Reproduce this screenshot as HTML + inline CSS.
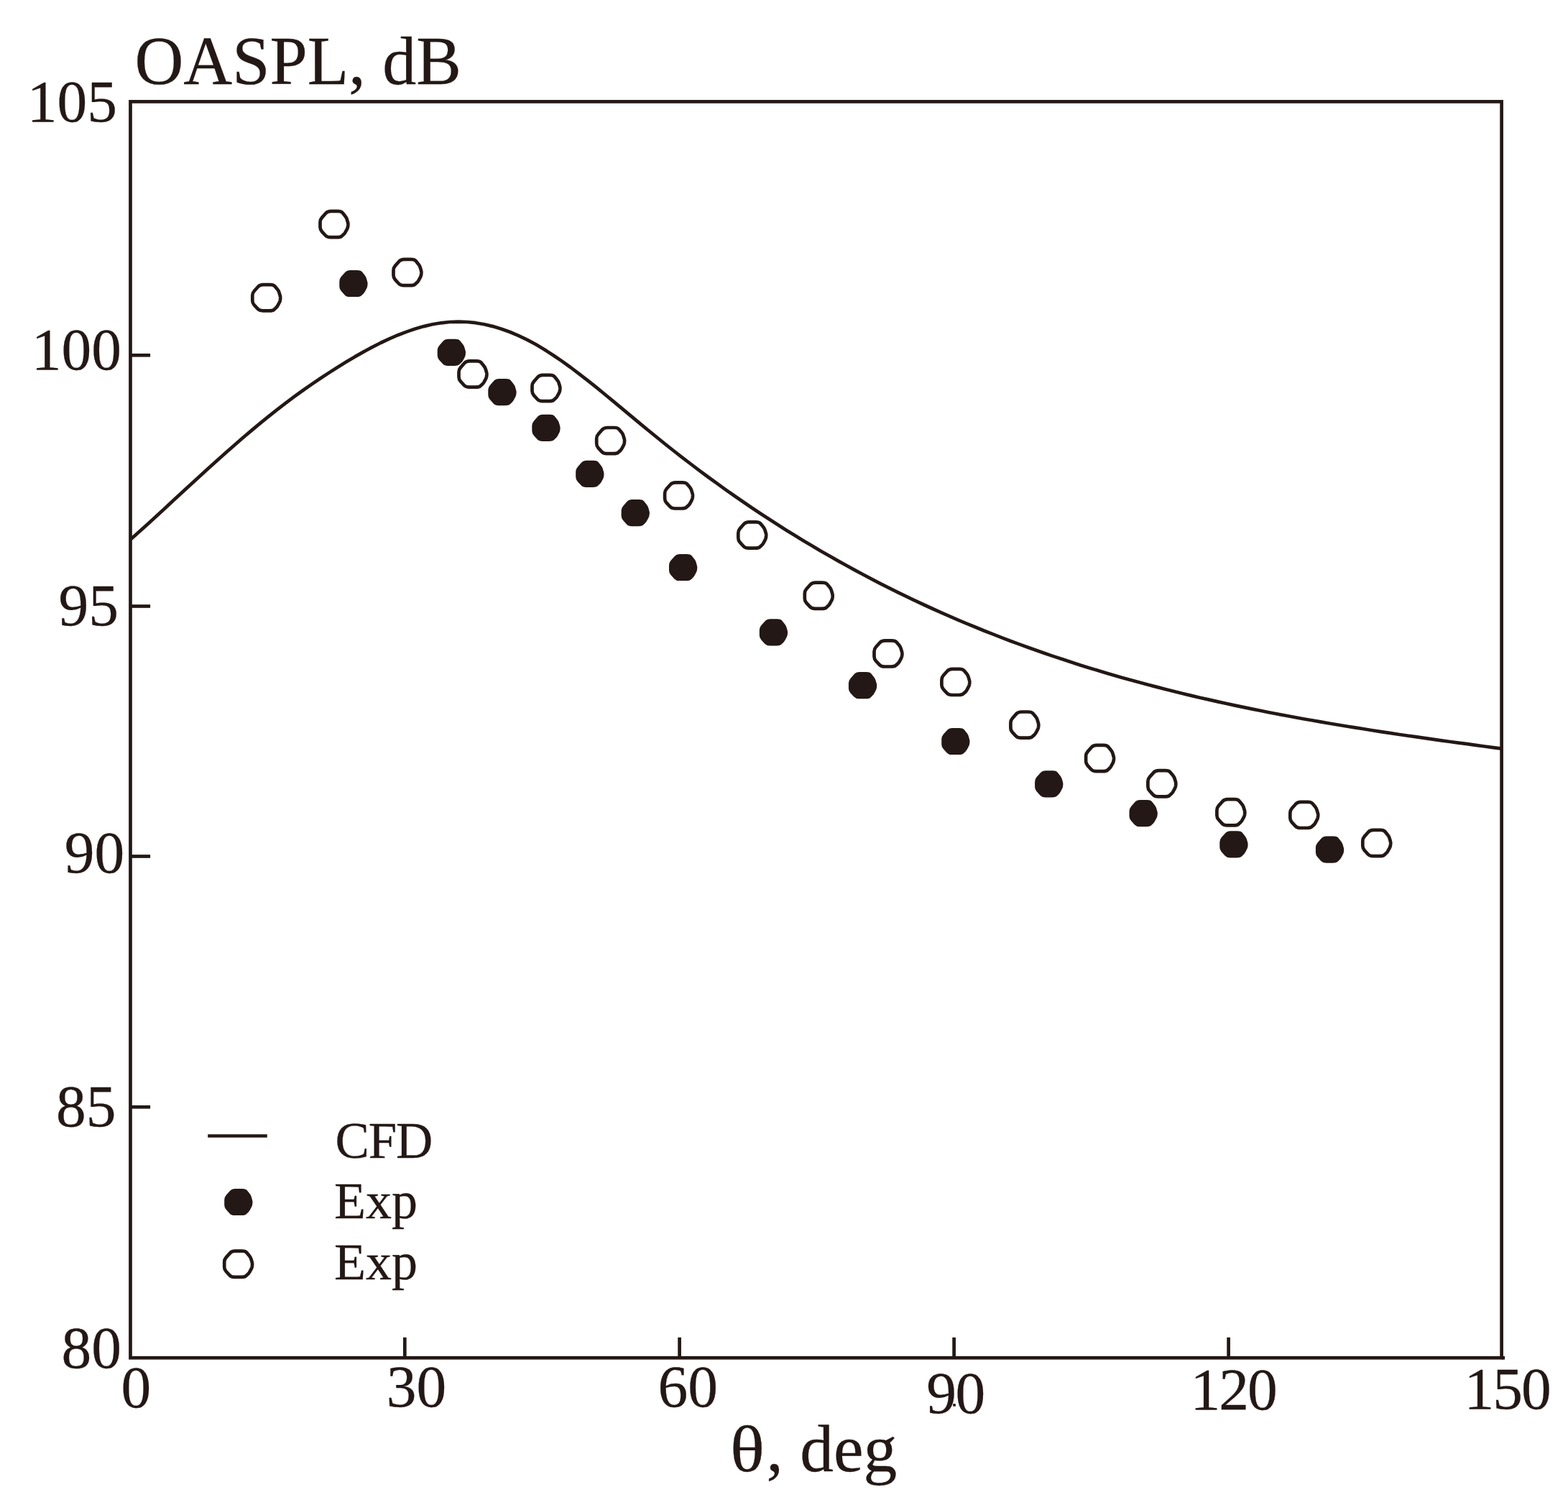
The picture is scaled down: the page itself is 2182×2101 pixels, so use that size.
<!DOCTYPE html>
<html lang="en"><head><meta charset="utf-8"><title>OASPL directivity</title>
<style>
html,body{margin:0;padding:0;background:#fff;}
body{width:2182px;height:2101px;overflow:hidden;}
svg{display:block;}
text{font-family:"Liberation Serif",serif;fill:#231815;stroke:#231815;stroke-width:0.3px;stroke-linejoin:round;}
</style></head><body>
<svg width="2182" height="2101" viewBox="0 0 2182 2101">
<rect width="2182" height="2101" fill="#fff"/>
<g fill="none" stroke="#231815" stroke-width="4.7" stroke-linecap="butt" stroke-linejoin="miter">
<rect x="181.5" y="141.4" width="1908.1" height="1747.9"/>
<line x1="2089.6" y1="1889.3" x2="2094.1" y2="1889.3"/>
<line x1="181.5" y1="494.3" x2="209.1" y2="494.3"/>
<line x1="181.5" y1="843.5" x2="209.1" y2="843.5"/>
<line x1="181.5" y1="1191.5" x2="209.1" y2="1191.5"/>
<line x1="181.5" y1="1540.3" x2="209.1" y2="1540.3"/>
<line x1="563.3" y1="1889.3" x2="563.3" y2="1860.9"/>
<line x1="945.6" y1="1889.3" x2="945.6" y2="1860.9"/>
<line x1="1327.6" y1="1889.3" x2="1327.6" y2="1860.9"/>
<line x1="1709.6" y1="1889.3" x2="1709.6" y2="1860.9"/>
<path d="M181.8,750.6 L193.8,739.8 L205.8,728.9 L217.8,717.9 L229.8,706.9 L241.8,695.8 L253.8,684.7 L265.8,673.7 L277.8,662.7 L289.8,651.8 L301.8,641.0 L313.8,630.3 L325.8,619.7 L337.8,609.3 L349.8,599.1 L361.8,589.1 L373.8,579.4 L385.8,569.9 L397.8,560.7 L409.8,551.7 L421.8,543.0 L433.8,534.6 L445.8,526.5 L457.8,518.6 L469.8,510.9 L481.8,503.6 L493.8,496.4 L505.8,489.6 L517.8,483.1 L529.8,477.0 L541.8,471.4 L553.8,466.2 L565.8,461.6 L577.8,457.5 L589.8,454.1 L601.8,451.3 L613.8,449.3 L625.8,448.0 L637.8,447.6 L649.8,448.0 L661.8,449.2 L673.8,451.2 L685.8,454.1 L697.8,457.7 L709.8,462.0 L721.8,467.1 L733.8,472.9 L745.8,479.3 L757.8,486.5 L769.8,494.2 L781.8,502.4 L793.8,511.0 L805.8,520.1 L817.8,529.4 L829.8,538.9 L841.8,548.7 L853.8,558.6 L865.8,568.6 L877.8,578.6 L889.8,588.6 L901.8,598.5 L913.8,608.3 L925.8,618.0 L937.8,627.5 L949.8,636.8 L961.8,646.0 L973.8,655.1 L985.8,664.0 L997.8,672.7 L1009.8,681.3 L1021.8,689.7 L1033.8,698.0 L1045.8,706.2 L1057.8,714.2 L1069.8,722.0 L1081.8,729.8 L1093.8,737.4 L1105.8,744.8 L1117.8,752.2 L1129.8,759.3 L1141.8,766.4 L1153.8,773.3 L1165.8,780.1 L1177.8,786.8 L1189.8,793.4 L1201.8,799.8 L1213.8,806.1 L1225.8,812.3 L1237.8,818.3 L1249.8,824.3 L1261.8,830.1 L1273.8,835.9 L1285.8,841.5 L1297.8,847.0 L1309.8,852.3 L1321.8,857.6 L1333.8,862.8 L1345.8,867.9 L1357.8,872.8 L1369.8,877.7 L1381.8,882.4 L1393.8,887.1 L1405.8,891.7 L1417.8,896.1 L1429.8,900.5 L1441.8,904.8 L1453.8,909.0 L1465.8,913.1 L1477.8,917.1 L1489.8,921.0 L1501.8,924.9 L1513.8,928.7 L1525.8,932.3 L1537.8,935.9 L1549.8,939.5 L1561.8,942.9 L1573.8,946.3 L1585.8,949.6 L1597.8,952.8 L1609.8,955.9 L1621.8,959.0 L1633.8,962.0 L1645.8,965.0 L1657.8,967.9 L1669.8,970.7 L1681.8,973.4 L1693.8,976.1 L1705.8,978.8 L1717.8,981.4 L1729.8,983.9 L1741.8,986.4 L1753.8,988.8 L1765.8,991.2 L1777.8,993.5 L1789.8,995.8 L1801.8,998.0 L1813.8,1000.2 L1825.8,1002.3 L1837.8,1004.4 L1849.8,1006.5 L1861.8,1008.5 L1873.8,1010.5 L1885.8,1012.4 L1897.8,1014.3 L1909.8,1016.2 L1921.8,1018.1 L1933.8,1019.9 L1945.8,1021.7 L1957.8,1023.5 L1969.8,1025.2 L1981.8,1026.9 L1993.8,1028.6 L2005.8,1030.3 L2017.8,1032.0 L2029.8,1033.6 L2041.8,1035.2 L2053.8,1036.9 L2065.8,1038.5 L2077.8,1040.1 L2089.8,1041.6 L2090.0,1041.7" stroke-linejoin="round"/>
<line x1="289.2" y1="1580.5" x2="371.8" y2="1580.5"/>
</g>
<g fill="#231815">
<path d="M480.1,378.9Q482.7,375.9 487.5,375.9L497.1,375.9Q501.9,375.9 503.7,378.1L507.3,382.6Q509.1,384.8 509.8,387.0L511.1,391.4Q511.7,393.6 511.6,395.1L511.3,398.0Q511.1,399.5 510.1,401.5L508.0,405.5Q507.0,407.5 505.4,408.9L502.4,411.7Q500.9,413.1 496.2,413.1L486.8,413.1Q482.1,413.1 479.7,410.4L474.8,405.0Q472.3,402.3 472.3,398.7L472.3,391.4Q472.3,387.8 474.9,384.8Z"/>
<path d="M616.5,474.8Q619.1,471.8 623.9,471.8L633.5,471.8Q638.2,471.8 640.1,474.0L643.7,478.5Q645.5,480.7 646.2,482.9L647.5,487.3Q648.1,489.5 648.0,491.0L647.7,493.9Q647.5,495.4 646.5,497.4L644.4,501.4Q643.4,503.4 641.8,504.8L638.8,507.6Q637.3,509.0 632.6,509.0L623.2,509.0Q618.5,509.0 616.1,506.3L611.2,500.9Q608.7,498.2 608.7,494.6L608.7,487.3Q608.7,483.7 611.3,480.7Z"/>
<path d="M687.1,530.0Q689.7,527.0 694.5,527.0L704.1,527.0Q708.9,527.0 710.7,529.2L714.3,533.7Q716.1,535.9 716.8,538.1L718.1,542.5Q718.7,544.7 718.6,546.2L718.3,549.1Q718.1,550.6 717.1,552.6L715.0,556.6Q714.0,558.6 712.4,560.0L709.4,562.8Q707.9,564.2 703.2,564.2L693.8,564.2Q689.1,564.2 686.7,561.5L681.8,556.1Q679.3,553.4 679.3,549.8L679.3,542.5Q679.3,538.9 681.9,535.9Z"/>
<path d="M748.1,579.8Q750.7,576.8 755.5,576.8L765.1,576.8Q769.9,576.8 771.7,579.0L775.3,583.5Q777.1,585.7 777.8,587.9L779.1,592.3Q779.7,594.5 779.6,596.0L779.3,598.9Q779.1,600.4 778.1,602.4L776.0,606.4Q775.0,608.4 773.4,609.8L770.4,612.6Q768.9,614.0 764.2,614.0L754.8,614.0Q750.1,614.0 747.7,611.3L742.8,605.9Q740.3,603.2 740.3,599.6L740.3,592.3Q740.3,588.7 742.9,585.7Z"/>
<path d="M809.0,643.8Q811.6,640.8 816.4,640.8L826.0,640.8Q830.8,640.8 832.6,643.0L836.2,647.5Q838.0,649.7 838.7,651.9L840.0,656.3Q840.6,658.5 840.5,660.0L840.2,662.9Q840.0,664.4 839.0,666.4L836.9,670.4Q835.9,672.4 834.3,673.8L831.3,676.6Q829.8,678.0 825.1,678.0L815.7,678.0Q811.0,678.0 808.6,675.3L803.7,669.9Q801.2,667.2 801.2,663.6L801.2,656.3Q801.2,652.7 803.8,649.7Z"/>
<path d="M872.4,698.0Q875.0,695.0 879.8,695.0L889.4,695.0Q894.1,695.0 896.0,697.2L899.6,701.7Q901.4,703.9 902.1,706.1L903.4,710.5Q904.0,712.7 903.9,714.2L903.6,717.1Q903.4,718.6 902.4,720.6L900.3,724.6Q899.3,726.6 897.7,728.0L894.7,730.8Q893.2,732.2 888.5,732.2L879.1,732.2Q874.4,732.2 872.0,729.5L867.1,724.1Q864.6,721.4 864.6,717.8L864.6,710.5Q864.6,706.9 867.2,703.9Z"/>
<path d="M938.8,773.9Q941.4,770.9 946.2,770.9L955.8,770.9Q960.6,770.9 962.4,773.1L966.0,777.6Q967.8,779.8 968.5,782.0L969.8,786.4Q970.4,788.6 970.3,790.1L970.0,793.0Q969.8,794.5 968.8,796.5L966.7,800.5Q965.7,802.5 964.1,803.9L961.1,806.7Q959.6,808.1 954.9,808.1L945.5,808.1Q940.9,808.1 938.4,805.4L933.5,800.0Q931.0,797.3 931.0,793.7L931.0,786.4Q931.0,782.8 933.6,779.8Z"/>
<path d="M1064.6,864.2Q1067.2,861.2 1072.0,861.2L1081.6,861.2Q1086.3,861.2 1088.2,863.4L1091.8,867.9Q1093.6,870.1 1094.3,872.3L1095.6,876.7Q1096.2,878.9 1096.1,880.4L1095.8,883.3Q1095.6,884.8 1094.6,886.8L1092.5,890.8Q1091.5,892.8 1089.9,894.2L1086.9,897.0Q1085.4,898.4 1080.7,898.4L1071.3,898.4Q1066.7,898.4 1064.2,895.7L1059.3,890.3Q1056.8,887.6 1056.8,884.0L1056.8,876.7Q1056.8,873.1 1059.4,870.1Z"/>
<path d="M1188.7,938.1Q1191.3,935.1 1196.1,935.1L1205.7,935.1Q1210.4,935.1 1212.3,937.3L1215.9,941.8Q1217.7,944.0 1218.4,946.2L1219.7,950.6Q1220.3,952.8 1220.2,954.3L1219.9,957.2Q1219.7,958.7 1218.7,960.7L1216.6,964.7Q1215.6,966.7 1214.0,968.1L1211.0,970.9Q1209.5,972.3 1204.8,972.3L1195.4,972.3Q1190.8,972.3 1188.3,969.6L1183.4,964.2Q1180.9,961.5 1180.9,957.9L1180.9,950.6Q1180.9,947.0 1183.5,944.0Z"/>
<path d="M1318.0,1015.9Q1320.6,1012.9 1325.4,1012.9L1335.0,1012.9Q1339.8,1012.9 1341.6,1015.1L1345.2,1019.6Q1347.0,1021.8 1347.7,1024.0L1349.0,1028.4Q1349.6,1030.6 1349.5,1032.1L1349.2,1035.0Q1349.0,1036.5 1348.0,1038.5L1345.9,1042.5Q1344.9,1044.5 1343.3,1045.9L1340.3,1048.7Q1338.8,1050.1 1334.1,1050.1L1324.7,1050.1Q1320.1,1050.1 1317.6,1047.4L1312.7,1042.0Q1310.2,1039.3 1310.2,1035.7L1310.2,1028.4Q1310.2,1024.8 1312.8,1021.8Z"/>
<path d="M1447.9,1075.2Q1450.5,1072.2 1455.3,1072.2L1464.9,1072.2Q1469.6,1072.2 1471.5,1074.4L1475.1,1078.9Q1476.9,1081.1 1477.6,1083.3L1478.9,1087.7Q1479.5,1089.9 1479.4,1091.4L1479.1,1094.3Q1478.9,1095.8 1477.9,1097.8L1475.8,1101.8Q1474.8,1103.8 1473.2,1105.2L1470.2,1108.0Q1468.7,1109.4 1464.0,1109.4L1454.6,1109.4Q1450.0,1109.4 1447.5,1106.7L1442.6,1101.3Q1440.1,1098.6 1440.1,1095.0L1440.1,1087.7Q1440.1,1084.1 1442.7,1081.1Z"/>
<path d="M1579.3,1116.0Q1581.9,1113.0 1586.7,1113.0L1596.3,1113.0Q1601.0,1113.0 1602.9,1115.2L1606.5,1119.7Q1608.3,1121.9 1609.0,1124.1L1610.3,1128.5Q1610.9,1130.7 1610.8,1132.2L1610.5,1135.1Q1610.3,1136.6 1609.3,1138.6L1607.2,1142.6Q1606.2,1144.6 1604.6,1146.0L1601.6,1148.8Q1600.1,1150.2 1595.4,1150.2L1586.0,1150.2Q1581.4,1150.2 1578.9,1147.5L1574.0,1142.1Q1571.5,1139.4 1571.5,1135.8L1571.5,1128.5Q1571.5,1124.9 1574.1,1121.9Z"/>
<path d="M1705.1,1159.2Q1707.7,1156.2 1712.5,1156.2L1722.1,1156.2Q1726.8,1156.2 1728.7,1158.4L1732.3,1162.9Q1734.1,1165.1 1734.8,1167.3L1736.1,1171.7Q1736.7,1173.9 1736.6,1175.4L1736.3,1178.3Q1736.1,1179.8 1735.1,1181.8L1733.0,1185.8Q1732.0,1187.8 1730.4,1189.2L1727.4,1192.0Q1725.9,1193.4 1721.2,1193.4L1711.8,1193.4Q1707.2,1193.4 1704.7,1190.7L1699.8,1185.3Q1697.3,1182.6 1697.3,1179.0L1697.3,1171.7Q1697.3,1168.1 1699.9,1165.1Z"/>
<path d="M1838.7,1166.5Q1841.3,1163.5 1846.1,1163.5L1855.7,1163.5Q1860.4,1163.5 1862.3,1165.7L1865.9,1170.2Q1867.7,1172.4 1868.4,1174.6L1869.7,1179.0Q1870.3,1181.2 1870.2,1182.7L1869.9,1185.6Q1869.7,1187.1 1868.7,1189.1L1866.6,1193.1Q1865.6,1195.1 1864.0,1196.5L1861.0,1199.3Q1859.5,1200.7 1854.8,1200.7L1845.4,1200.7Q1840.8,1200.7 1838.3,1198.0L1833.4,1192.6Q1830.9,1189.9 1830.9,1186.3L1830.9,1179.0Q1830.9,1175.4 1833.5,1172.4Z"/>
<path d="M320.0,1656.9Q322.6,1653.9 327.4,1653.9L337.0,1653.9Q341.8,1653.9 343.6,1656.1L347.2,1660.6Q349.0,1662.8 349.7,1665.0L351.0,1669.4Q351.6,1671.6 351.5,1673.1L351.2,1676.0Q351.0,1677.5 350.0,1679.5L347.9,1683.5Q346.9,1685.5 345.3,1686.9L342.3,1689.7Q340.8,1691.1 336.1,1691.1L326.7,1691.1Q322.0,1691.1 319.6,1688.4L314.7,1683.0Q312.2,1680.3 312.2,1676.7L312.2,1669.4Q312.2,1665.8 314.8,1662.8Z"/>
</g>
<g fill="#fff" stroke="#231815" stroke-width="4.7" stroke-linejoin="round">
<path d="M359.1,399.0Q361.6,396.1 366.4,396.1L375.8,396.1Q380.6,396.1 382.4,398.3L386.0,402.6Q387.8,404.8 388.4,406.9L389.7,411.2Q390.3,413.3 390.2,414.7L389.9,417.6Q389.7,419.1 388.7,421.0L386.6,424.9Q385.6,426.9 384.1,428.2L381.1,430.9Q379.6,432.3 374.9,432.3L365.7,432.3Q361.1,432.3 358.6,429.7L353.7,424.4Q351.3,421.8 351.3,418.3L351.3,411.2Q351.3,407.7 353.9,404.8Z"/>
<path d="M453.3,296.8Q455.8,293.9 460.6,293.9L470.0,293.9Q474.8,293.9 476.6,296.1L480.2,300.4Q482.0,302.6 482.6,304.7L483.9,309.0Q484.5,311.1 484.4,312.5L484.1,315.4Q483.9,316.9 482.9,318.8L480.8,322.7Q479.8,324.7 478.3,326.0L475.3,328.7Q473.8,330.1 469.1,330.1L459.9,330.1Q455.2,330.1 452.8,327.5L447.9,322.2Q445.5,319.6 445.5,316.1L445.5,309.0Q445.5,305.5 448.1,302.6Z"/>
<path d="M555.3,363.8Q557.8,360.9 562.6,360.9L572.0,360.9Q576.8,360.9 578.6,363.1L582.2,367.4Q584.0,369.6 584.6,371.7L585.9,376.0Q586.5,378.1 586.4,379.5L586.1,382.4Q585.9,383.9 584.9,385.8L582.8,389.7Q581.8,391.7 580.3,393.0L577.3,395.7Q575.8,397.1 571.1,397.1L561.9,397.1Q557.2,397.1 554.8,394.5L549.9,389.2Q547.5,386.6 547.5,383.1L547.5,376.0Q547.5,372.5 550.1,369.6Z"/>
<path d="M646.3,505.3Q648.8,502.4 653.6,502.4L663.0,502.4Q667.8,502.4 669.6,504.6L673.2,508.9Q675.0,511.1 675.6,513.2L676.9,517.5Q677.5,519.6 677.4,521.0L677.1,523.9Q676.9,525.4 675.9,527.3L673.8,531.2Q672.8,533.2 671.3,534.5L668.3,537.2Q666.8,538.6 662.1,538.6L652.9,538.6Q648.2,538.6 645.8,536.0L640.9,530.7Q638.5,528.1 638.5,524.6L638.5,517.5Q638.5,514.0 641.1,511.1Z"/>
<path d="M748.3,524.8Q750.8,521.9 755.6,521.9L765.0,521.9Q769.8,521.9 771.6,524.1L775.2,528.4Q777.0,530.6 777.6,532.7L778.9,537.0Q779.5,539.1 779.4,540.5L779.1,543.4Q778.9,544.9 777.9,546.8L775.8,550.7Q774.8,552.7 773.3,554.0L770.3,556.7Q768.8,558.1 764.1,558.1L754.9,558.1Q750.2,558.1 747.8,555.5L742.9,550.2Q740.5,547.6 740.5,544.1L740.5,537.0Q740.5,533.5 743.1,530.6Z"/>
<path d="M838.0,597.9Q840.5,595.0 845.3,595.0L854.7,595.0Q859.5,595.0 861.3,597.2L864.9,601.5Q866.7,603.7 867.3,605.8L868.6,610.1Q869.2,612.2 869.1,613.6L868.8,616.5Q868.6,618.0 867.6,619.9L865.5,623.8Q864.5,625.8 863.0,627.1L860.0,629.8Q858.5,631.2 853.8,631.2L844.6,631.2Q840.0,631.2 837.5,628.6L832.6,623.3Q830.2,620.7 830.2,617.2L830.2,610.1Q830.2,606.6 832.8,603.7Z"/>
<path d="M932.9,674.2Q935.4,671.3 940.2,671.3L949.6,671.3Q954.4,671.3 956.2,673.5L959.8,677.8Q961.6,680.0 962.2,682.1L963.5,686.4Q964.1,688.5 964.0,689.9L963.7,692.8Q963.5,694.3 962.5,696.2L960.4,700.1Q959.4,702.1 957.9,703.4L954.9,706.1Q953.4,707.5 948.7,707.5L939.5,707.5Q934.9,707.5 932.4,704.9L927.5,699.6Q925.1,697.0 925.1,693.5L925.1,686.4Q925.1,682.9 927.7,680.0Z"/>
<path d="M1035.1,729.3Q1037.6,726.4 1042.4,726.4L1051.8,726.4Q1056.5,726.4 1058.4,728.6L1062.0,732.9Q1063.8,735.1 1064.4,737.2L1065.7,741.5Q1066.3,743.6 1066.2,745.0L1065.9,747.9Q1065.7,749.4 1064.7,751.3L1062.6,755.2Q1061.6,757.2 1060.1,758.5L1057.1,761.2Q1055.6,762.6 1050.9,762.6L1041.7,762.6Q1037.0,762.6 1034.6,760.0L1029.7,754.7Q1027.3,752.1 1027.3,748.6L1027.3,741.5Q1027.3,738.0 1029.9,735.1Z"/>
<path d="M1127.6,813.5Q1130.1,810.6 1134.9,810.6L1144.3,810.6Q1149.0,810.6 1150.9,812.8L1154.5,817.1Q1156.3,819.3 1156.9,821.4L1158.2,825.7Q1158.8,827.8 1158.7,829.2L1158.4,832.1Q1158.2,833.6 1157.2,835.5L1155.1,839.4Q1154.1,841.4 1152.6,842.7L1149.6,845.4Q1148.1,846.8 1143.4,846.8L1134.2,846.8Q1129.5,846.8 1127.1,844.2L1122.2,838.9Q1119.8,836.3 1119.8,832.8L1119.8,825.7Q1119.8,822.2 1122.4,819.3Z"/>
<path d="M1224.3,894.2Q1226.8,891.3 1231.6,891.3L1241.0,891.3Q1245.8,891.3 1247.6,893.5L1251.2,897.8Q1253.0,900.0 1253.6,902.1L1254.9,906.4Q1255.5,908.5 1255.4,909.9L1255.1,912.8Q1254.9,914.3 1253.9,916.2L1251.8,920.1Q1250.8,922.1 1249.3,923.4L1246.3,926.1Q1244.8,927.5 1240.1,927.5L1230.9,927.5Q1226.2,927.5 1223.8,924.9L1218.9,919.6Q1216.5,917.0 1216.5,913.5L1216.5,906.4Q1216.5,902.9 1219.1,900.0Z"/>
<path d="M1318.2,933.7Q1320.7,930.8 1325.5,930.8L1334.9,930.8Q1339.7,930.8 1341.5,933.0L1345.1,937.3Q1346.9,939.5 1347.5,941.6L1348.8,945.9Q1349.4,948.0 1349.3,949.4L1349.0,952.3Q1348.8,953.8 1347.8,955.7L1345.7,959.6Q1344.7,961.6 1343.2,962.9L1340.2,965.6Q1338.7,967.0 1334.0,967.0L1324.8,967.0Q1320.2,967.0 1317.7,964.4L1312.8,959.1Q1310.4,956.5 1310.4,953.0L1310.4,945.9Q1310.4,942.4 1313.0,939.5Z"/>
<path d="M1414.2,993.4Q1416.7,990.5 1421.5,990.5L1430.9,990.5Q1435.7,990.5 1437.5,992.7L1441.1,997.0Q1442.9,999.2 1443.5,1001.3L1444.8,1005.6Q1445.4,1007.7 1445.3,1009.1L1445.0,1012.0Q1444.8,1013.5 1443.8,1015.4L1441.7,1019.3Q1440.7,1021.3 1439.2,1022.6L1436.2,1025.3Q1434.7,1026.7 1430.0,1026.7L1420.8,1026.7Q1416.2,1026.7 1413.7,1024.1L1408.8,1018.8Q1406.4,1016.2 1406.4,1012.7L1406.4,1005.6Q1406.4,1002.1 1409.0,999.2Z"/>
<path d="M1518.9,1039.8Q1521.4,1036.9 1526.2,1036.9L1535.6,1036.9Q1540.3,1036.9 1542.2,1039.1L1545.8,1043.4Q1547.6,1045.6 1548.2,1047.7L1549.5,1052.0Q1550.1,1054.1 1550.0,1055.5L1549.7,1058.4Q1549.5,1059.9 1548.5,1061.8L1546.4,1065.7Q1545.4,1067.7 1543.9,1069.0L1540.9,1071.7Q1539.4,1073.1 1534.7,1073.1L1525.5,1073.1Q1520.8,1073.1 1518.4,1070.5L1513.5,1065.2Q1511.1,1062.6 1511.1,1059.1L1511.1,1052.0Q1511.1,1048.5 1513.7,1045.6Z"/>
<path d="M1605.2,1075.1Q1607.7,1072.2 1612.5,1072.2L1621.9,1072.2Q1626.7,1072.2 1628.5,1074.4L1632.1,1078.7Q1633.9,1080.9 1634.5,1083.0L1635.8,1087.3Q1636.4,1089.4 1636.3,1090.8L1636.0,1093.7Q1635.8,1095.2 1634.8,1097.1L1632.7,1101.0Q1631.7,1103.0 1630.2,1104.3L1627.2,1107.0Q1625.7,1108.4 1621.0,1108.4L1611.8,1108.4Q1607.2,1108.4 1604.7,1105.8L1599.8,1100.5Q1597.4,1097.9 1597.4,1094.4L1597.4,1087.3Q1597.4,1083.8 1600.0,1080.9Z"/>
<path d="M1701.2,1115.1Q1703.7,1112.2 1708.5,1112.2L1717.9,1112.2Q1722.7,1112.2 1724.5,1114.4L1728.1,1118.7Q1729.9,1120.9 1730.5,1123.0L1731.8,1127.3Q1732.4,1129.4 1732.3,1130.8L1732.0,1133.7Q1731.8,1135.2 1730.8,1137.1L1728.7,1141.0Q1727.7,1143.0 1726.2,1144.3L1723.2,1147.0Q1721.7,1148.4 1717.0,1148.4L1707.8,1148.4Q1703.2,1148.4 1700.7,1145.8L1695.8,1140.5Q1693.4,1137.9 1693.4,1134.4L1693.4,1127.3Q1693.4,1123.8 1696.0,1120.9Z"/>
<path d="M1803.1,1118.7Q1805.6,1115.8 1810.4,1115.8L1819.8,1115.8Q1824.5,1115.8 1826.4,1118.0L1830.0,1122.3Q1831.8,1124.5 1832.4,1126.6L1833.7,1130.9Q1834.3,1133.0 1834.2,1134.4L1833.9,1137.3Q1833.7,1138.8 1832.7,1140.7L1830.6,1144.6Q1829.6,1146.6 1828.1,1147.9L1825.1,1150.6Q1823.6,1152.0 1818.9,1152.0L1809.7,1152.0Q1805.0,1152.0 1802.6,1149.4L1797.7,1144.1Q1795.3,1141.5 1795.3,1138.0L1795.3,1130.9Q1795.3,1127.4 1797.9,1124.5Z"/>
<path d="M1904.1,1157.8Q1906.6,1154.9 1911.4,1154.9L1920.8,1154.9Q1925.5,1154.9 1927.4,1157.1L1931.0,1161.4Q1932.8,1163.6 1933.4,1165.7L1934.7,1170.0Q1935.3,1172.1 1935.2,1173.5L1934.9,1176.4Q1934.7,1177.9 1933.7,1179.8L1931.6,1183.7Q1930.6,1185.7 1929.1,1187.0L1926.1,1189.7Q1924.6,1191.1 1919.9,1191.1L1910.7,1191.1Q1906.0,1191.1 1903.6,1188.5L1898.7,1183.2Q1896.3,1180.6 1896.3,1177.1L1896.3,1170.0Q1896.3,1166.5 1898.9,1163.6Z"/>
<path d="M320.0,1743.6Q322.5,1740.7 327.3,1740.7L336.7,1740.7Q341.4,1740.7 343.3,1742.9L346.9,1747.2Q348.7,1749.4 349.3,1751.5L350.6,1755.8Q351.2,1757.9 351.1,1759.3L350.8,1762.2Q350.6,1763.7 349.6,1765.6L347.5,1769.5Q346.5,1771.5 345.0,1772.8L342.0,1775.5Q340.5,1776.9 335.8,1776.9L326.6,1776.9Q321.9,1776.9 319.5,1774.3L314.6,1769.0Q312.2,1766.4 312.2,1762.9L312.2,1755.8Q312.2,1752.3 314.8,1749.4Z"/>
</g>
<rect x="1326.2" y="1953.2" width="3.6" height="3.6" fill="#231815"/>
<text x="187.5" y="117.4" font-size="94" text-anchor="start" transform="translate(0 117.4) scale(1 1.018) translate(0 -117.4)">OASPL, dB</text>
<text x="163" y="169.2" font-size="83.5" text-anchor="end" >105</text>
<text x="169" y="514.3" font-size="83.5" text-anchor="end" >100</text>
<text x="165" y="869.7" font-size="83.5" text-anchor="end" >95</text>
<text x="173.2" y="1214.1" font-size="83.5" text-anchor="end" >90</text>
<text x="161.4" y="1566.6" font-size="83.5" text-anchor="end" >85</text>
<text x="169" y="1903.0" font-size="83.5" text-anchor="end" >80</text>
<text x="189.4" y="1957.8" font-size="83.5" text-anchor="middle" >0</text>
<text x="579.5" y="1956.9" font-size="83.5" text-anchor="middle" >30</text>
<text x="957.2" y="1956.9" font-size="83.5" text-anchor="middle" >60</text>
<text x="1329.5" y="1965.6" font-size="83.5" text-anchor="middle" letter-spacing="-1.5">90</text>
<text x="1716.2" y="1960.6" font-size="83.5" text-anchor="middle" letter-spacing="-2">120</text>
<text x="2097.1" y="1960.4" font-size="83.5" text-anchor="middle" letter-spacing="-2">150</text>
<text x="1016" y="2047" font-size="91" text-anchor="start" transform="translate(1016 0) scale(1.10 1) translate(-1016 0)">θ</text>
<text x="1066.5" y="2047" font-size="93.5" text-anchor="start" >, deg</text>
<text x="466.5" y="1611" font-size="71" text-anchor="start" letter-spacing="-1.2">CFD</text>
<text x="465" y="1695" font-size="72" text-anchor="start" >Exp</text>
<text x="465" y="1780" font-size="72" text-anchor="start" >Exp</text>
</svg>
</body></html>
